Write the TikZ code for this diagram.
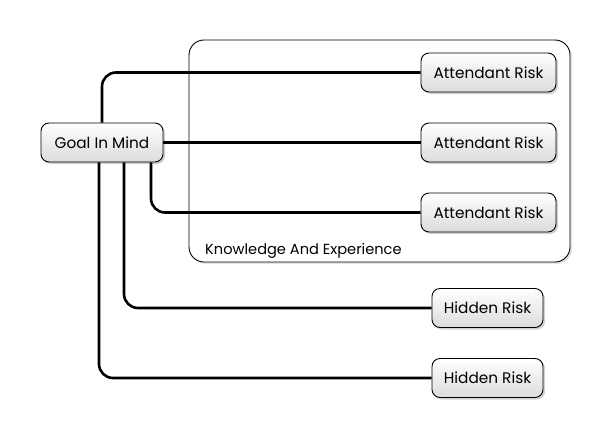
\documentclass[tikz,border=0pt]{standalone}
\usepackage{fontspec}
\setmainfont{Poppins}
\usetikzlibrary{shadows,positioning}
\tikzset{
  box/.style={draw=black, line width=0.9pt, rounded corners=8pt, top color=white, bottom color=black!14,
    minimum height=39pt, inner xsep=5pt, font=\fontsize{15.3}{17}\selectfont,
    drop shadow={shadow xshift=2pt, shadow yshift=-2pt, opacity=0.3, fill=black!60}},
  conn/.style={line width=2.6pt, rounded corners=14pt},
  frame/.style={draw=black, line width=0.9pt, rounded corners=15pt, fill=white,
    drop shadow={shadow xshift=2pt, shadow yshift=-2pt, opacity=0.22, fill=black!50}},
}
\begin{document}
\begin{tikzpicture}[x=1pt,y=-1pt]
\useasboundingbox (0,0) rectangle (610,439);
\node[frame, minimum width=381pt, minimum height=222pt] (kb) at (379.5,151) {};
\node[anchor=base west, font=\fontsize{14.6}{16}\selectfont, inner sep=0pt] (kbl) at (205,254) {Knowledge And Experience};
\node[box, minimum width=122pt] (goal) at (102,142.5) {Goal In Mind};
\node[box, minimum width=135pt] (a1) at (488.5,72.5) {Attendant Risk};
\node[box, minimum width=135pt] (a2) at (488.5,142.5) {Attendant Risk};
\node[box, minimum width=135pt] (a3) at (488.5,212.5) {Attendant Risk};
\node[box, minimum width=111pt] (h1) at (487.5,308) {Hidden Risk};
\node[box, minimum width=111pt] (h2) at (487.5,378) {Hidden Risk};
\draw[conn] (goal.north) |- (a1.west);
\draw[conn] (goal.east) -- (a2.west);
\draw[conn] ([xshift=49pt]goal.south) |- (a3.west);
\draw[conn] ([xshift=22pt]goal.south) |- (h1.west);
\draw[conn] ([xshift=-3pt]goal.south) |- (h2.west);
\end{tikzpicture}
\end{document}
